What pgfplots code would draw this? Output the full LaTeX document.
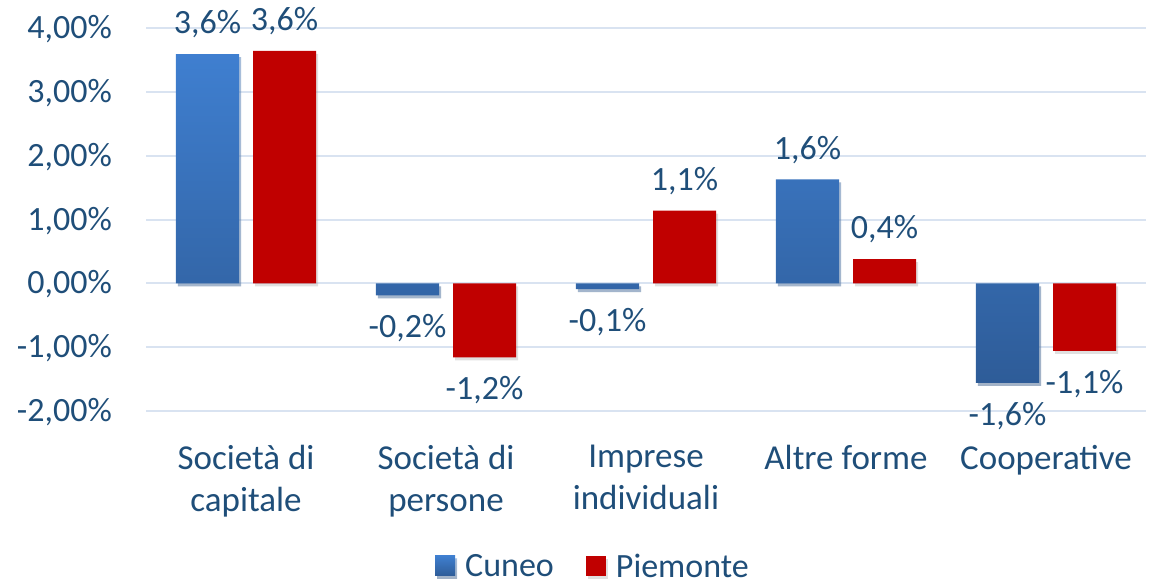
\documentclass[border=0pt]{standalone}
\usepackage{pgfplots}
\pgfplotsset{compat=1.18}
\usepackage{fontspec}
\setmainfont{Carlito}
\definecolor{txt}{HTML}{1F4E79}
\definecolor{gridc}{HTML}{D9E3F1}
\definecolor{ctop}{HTML}{3F7FD0}
\definecolor{cbot}{HTML}{2E5C98}
\definecolor{pie}{HTML}{C00000}
\pgfplotsset{
  sqlegendC/.style={legend image code/.code={\path[top color=ctop, bottom color=cbot, draw=none] (0pt,-10pt) rectangle (20pt,10pt);}},
  sqlegendP/.style={legend image code/.code={\path[fill=pie, draw=none] (0pt,-10pt) rectangle (20pt,10pt);}}}
\tikzset{barshadow/.style={preaction={fill=black!35, fill opacity=0.35, draw=none, transform canvas={xshift=2pt, yshift=-3pt}}}}
\begin{document}
\begin{tikzpicture}[x=1pt,y=1pt]
\path[use as bounding box] (0,0) rectangle (1153,581);
\begin{axis}[
  at={(146pt,170pt)}, anchor=south west,
  scale only axis, width=1000pt, height=383pt,
  ybar, bar width=63pt,
  xmin=-0.5, xmax=4.5, ymin=-2, ymax=4,
  axis line style={draw=none},
  major tick length=0pt,
  ymajorgrids, grid style={gridc, line width=2pt},
  xtick={0,...,4},
  xticklabels={{Società di\\capitale},{Società di\\persone},{Imprese\\individuali},{Altre forme},{Cooperative}},
  ytick={-2,...,4},
  yticklabels={{-2,00\%},{-1,00\%},{0,00\%},{1,00\%},{2,00\%},{3,00\%},{4,00\%}},
  xticklabel style={align=center, anchor=north, inner sep=0pt, yshift=-34pt, text=txt, font=\fontsize{35}{42}\selectfont},
  yticklabel style={anchor=base east, inner sep=0pt, xshift=-34pt, yshift=-10.5pt, text=txt, font=\fontsize{34}{42}\selectfont},
  clip=false,
  point meta=y,
  nodes near coords={\pgfmathprintnumber[fixed,precision=1,use comma,assume math mode=true]{\pgfplotspointmeta}\%},
  nodes near coords style={text=txt, font=\fontsize{34}{42}\selectfont, inner xsep=0pt, inner ysep=20pt, text height=22pt, text depth=0pt},
  legend columns=2,
  legend style={draw=none, fill=none, at={(0.447,-0.404)}, anchor=center, text=txt, font=\fontsize{34}{42}\selectfont,
    nodes={text depth=0pt},
    /tikz/every odd column/.append style={column sep=8pt},
    /tikz/every even column/.append style={column sep=30pt}},
]
\addplot[bar shift=-38.5pt, draw=none, barshadow, top color=ctop, bottom color=cbot, sqlegendC]
  coordinates {(0,3.59) (1,-0.19) (2,-0.09) (3,1.63) (4,-1.56)};
\addlegendentry{Cuneo}
\addplot[bar shift=38.5pt, draw=none, barshadow, fill=pie, sqlegendP]
  coordinates {(0,3.64) (1,-1.16) (2,1.14) (3,0.38) (4,-1.06)};
\addlegendentry{Piemonte}
\end{axis}
\end{tikzpicture}
\end{document}
